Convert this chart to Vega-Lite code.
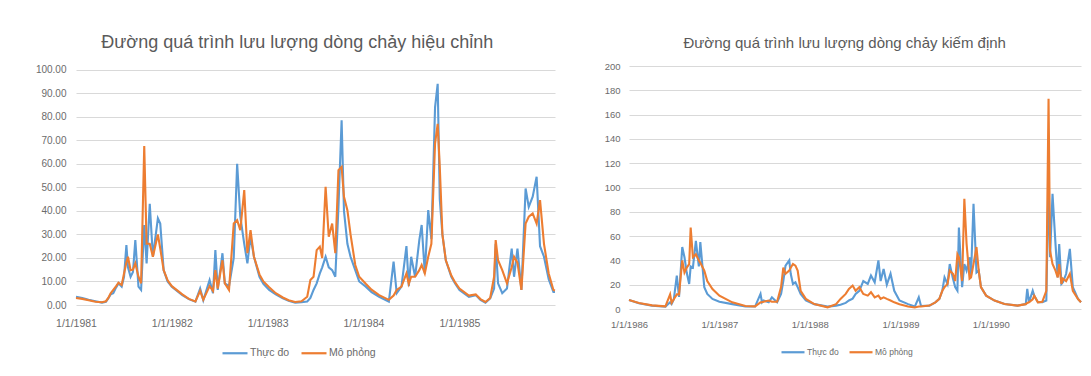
{
  "$schema": "https://vega.github.io/schema/vega-lite/v6.json",
  "background": "white",
  "padding": {"left": 35, "top": 33, "right": 5, "bottom": 5},
  "spacing": 44,
  "config": {
    "view": {"stroke": null},
    "font": "Liberation Sans",
    "axis": {"labelColor": "#6b6b6b", "labelFont": "Liberation Sans", "ticks": false, "tickSize": 0, "domain": false, "title": null},
    "title": {"color": "#5a5a5a", "fontWeight": "normal", "font": "Liberation Sans", "frame": "bounds", "anchor": "middle"},
    "legend": {"labelColor": "#6b6b6b", "labelFont": "Liberation Sans", "title": null}
  },
  "datasets": {
    "cal": [
      {"d": "1981-01-01", "obs": 3.5, "sim": 3.0},
      {"d": "1981-01-25", "obs": 3.0, "sim": 2.6},
      {"d": "1981-02-18", "obs": 2.2, "sim": 2.0},
      {"d": "1981-03-16", "obs": 1.6, "sim": 1.4},
      {"d": "1981-04-10", "obs": 1.0, "sim": 1.2},
      {"d": "1981-04-25", "obs": 1.4, "sim": 1.6},
      {"d": "1981-05-04", "obs": 2.8, "sim": 3.0},
      {"d": "1981-05-13", "obs": 4.5, "sim": 5.0},
      {"d": "1981-05-23", "obs": 5.0, "sim": 6.4},
      {"d": "1981-06-03", "obs": 7.5, "sim": 8.0},
      {"d": "1981-06-12", "obs": 9.2, "sim": 9.5},
      {"d": "1981-06-24", "obs": 7.8, "sim": 8.5},
      {"d": "1981-07-03", "obs": 12, "sim": 13.4},
      {"d": "1981-07-12", "obs": 25.5, "sim": 18},
      {"d": "1981-07-18", "obs": 16, "sim": 20.5},
      {"d": "1981-07-28", "obs": 12, "sim": 14.8},
      {"d": "1981-08-06", "obs": 14, "sim": 15},
      {"d": "1981-08-15", "obs": 27.6, "sim": 17.7},
      {"d": "1981-08-27", "obs": 7.8, "sim": 12},
      {"d": "1981-09-06", "obs": 6.4, "sim": 9.2},
      {"d": "1981-09-18", "obs": 34, "sim": 67.5},
      {"d": "1981-09-27", "obs": 17.7, "sim": 26},
      {"d": "1981-10-09", "obs": 43, "sim": 26},
      {"d": "1981-10-21", "obs": 20.5, "sim": 20.5},
      {"d": "1981-11-09", "obs": 36.8, "sim": 30},
      {"d": "1981-11-18", "obs": 34.6, "sim": 24},
      {"d": "1981-12-01", "obs": 14.8, "sim": 14.8},
      {"d": "1981-12-16", "obs": 10, "sim": 10.5},
      {"d": "1982-01-01", "obs": 7.8, "sim": 8},
      {"d": "1982-02-10", "obs": 4.2, "sim": 4.5},
      {"d": "1982-03-07", "obs": 2.5, "sim": 2.6},
      {"d": "1982-04-01", "obs": 1.4, "sim": 1.5},
      {"d": "1982-04-19", "obs": 7, "sim": 6},
      {"d": "1982-05-01", "obs": 2, "sim": 2.2},
      {"d": "1982-05-25", "obs": 10.6, "sim": 8},
      {"d": "1982-06-07", "obs": 5, "sim": 6},
      {"d": "1982-06-16", "obs": 23.3, "sim": 14.8},
      {"d": "1982-06-25", "obs": 6.4, "sim": 7},
      {"d": "1982-07-13", "obs": 22, "sim": 19},
      {"d": "1982-07-22", "obs": 9.2, "sim": 9.2},
      {"d": "1982-08-07", "obs": 8, "sim": 6.4},
      {"d": "1982-08-25", "obs": 20, "sim": 34.6},
      {"d": "1982-09-07", "obs": 60, "sim": 36},
      {"d": "1982-09-19", "obs": 37.5, "sim": 31.8},
      {"d": "1982-10-04", "obs": 26, "sim": 48.8},
      {"d": "1982-10-16", "obs": 17.7, "sim": 22},
      {"d": "1982-10-28", "obs": 29, "sim": 31.8},
      {"d": "1982-11-10", "obs": 20.5, "sim": 20.5},
      {"d": "1982-12-01", "obs": 12, "sim": 13},
      {"d": "1982-12-16", "obs": 9, "sim": 10},
      {"d": "1983-01-07", "obs": 6.4, "sim": 7.5},
      {"d": "1983-02-01", "obs": 4.5, "sim": 5},
      {"d": "1983-02-28", "obs": 2.8, "sim": 3.2},
      {"d": "1983-03-22", "obs": 1.8, "sim": 2},
      {"d": "1983-04-16", "obs": 1.0, "sim": 1.3},
      {"d": "1983-05-10", "obs": 1.2, "sim": 1.6},
      {"d": "1983-06-01", "obs": 1.5, "sim": 3.5},
      {"d": "1983-06-13", "obs": 3, "sim": 10.6},
      {"d": "1983-06-25", "obs": 6.4, "sim": 12},
      {"d": "1983-07-07", "obs": 9.2, "sim": 23.3},
      {"d": "1983-07-19", "obs": 13.4, "sim": 24.8},
      {"d": "1983-07-28", "obs": 16, "sim": 20},
      {"d": "1983-08-10", "obs": 20.5, "sim": 50.2},
      {"d": "1983-08-22", "obs": 16, "sim": 29},
      {"d": "1983-09-04", "obs": 14.8, "sim": 34.6},
      {"d": "1983-09-16", "obs": 12, "sim": 22},
      {"d": "1983-09-28", "obs": 41.7, "sim": 57.3},
      {"d": "1983-10-10", "obs": 78.5, "sim": 58.7},
      {"d": "1983-10-19", "obs": 40, "sim": 46},
      {"d": "1983-11-01", "obs": 26, "sim": 40.3},
      {"d": "1983-11-13", "obs": 20.5, "sim": 30},
      {"d": "1983-12-01", "obs": 14.8, "sim": 17},
      {"d": "1983-12-16", "obs": 10, "sim": 12},
      {"d": "1984-01-10", "obs": 7.8, "sim": 9},
      {"d": "1984-02-01", "obs": 5.5, "sim": 6.5},
      {"d": "1984-03-01", "obs": 3.5, "sim": 4.2},
      {"d": "1984-04-07", "obs": 1.4, "sim": 2.2},
      {"d": "1984-04-25", "obs": 18.4, "sim": 4},
      {"d": "1984-05-07", "obs": 5, "sim": 6.4},
      {"d": "1984-05-25", "obs": 7.8, "sim": 7.8},
      {"d": "1984-06-13", "obs": 25, "sim": 13.4},
      {"d": "1984-06-22", "obs": 8, "sim": 9},
      {"d": "1984-07-01", "obs": 20.5, "sim": 12},
      {"d": "1984-07-16", "obs": 12, "sim": 12},
      {"d": "1984-08-01", "obs": 27.6, "sim": 14.8},
      {"d": "1984-08-10", "obs": 34, "sim": 17},
      {"d": "1984-08-22", "obs": 13.4, "sim": 13.4},
      {"d": "1984-09-04", "obs": 40.3, "sim": 20.5},
      {"d": "1984-09-16", "obs": 28, "sim": 26},
      {"d": "1984-09-30", "obs": 84, "sim": 68.6},
      {"d": "1984-10-10", "obs": 94, "sim": 77},
      {"d": "1984-10-18", "obs": 45, "sim": 58.7},
      {"d": "1984-10-28", "obs": 30, "sim": 30},
      {"d": "1984-11-10", "obs": 19, "sim": 19},
      {"d": "1984-12-01", "obs": 12, "sim": 12.5},
      {"d": "1984-12-16", "obs": 9, "sim": 9.5},
      {"d": "1985-01-01", "obs": 6.4, "sim": 7},
      {"d": "1985-02-06", "obs": 3.5, "sim": 4},
      {"d": "1985-03-04", "obs": 4.2, "sim": 4.5},
      {"d": "1985-03-22", "obs": 2.2, "sim": 2.5},
      {"d": "1985-04-10", "obs": 1.0, "sim": 1.3},
      {"d": "1985-04-28", "obs": 2.8, "sim": 3},
      {"d": "1985-05-13", "obs": 7, "sim": 12},
      {"d": "1985-05-19", "obs": 26, "sim": 27.6},
      {"d": "1985-05-28", "obs": 9.2, "sim": 19},
      {"d": "1985-06-13", "obs": 5, "sim": 14.8},
      {"d": "1985-07-01", "obs": 7, "sim": 9.2},
      {"d": "1985-07-19", "obs": 24, "sim": 16},
      {"d": "1985-07-28", "obs": 12, "sim": 20.5},
      {"d": "1985-08-10", "obs": 24, "sim": 18},
      {"d": "1985-08-25", "obs": 6.4, "sim": 6.4},
      {"d": "1985-09-10", "obs": 49.5, "sim": 34.6},
      {"d": "1985-09-22", "obs": 41.7, "sim": 37.5},
      {"d": "1985-10-07", "obs": 46, "sim": 38.9},
      {"d": "1985-10-22", "obs": 54.5, "sim": 34.6},
      {"d": "1985-11-04", "obs": 25, "sim": 44.6},
      {"d": "1985-11-19", "obs": 20.5, "sim": 26},
      {"d": "1985-12-07", "obs": 11, "sim": 13.4},
      {"d": "1985-12-25", "obs": 5.5, "sim": 6.4},
      {"d": "1985-12-31", "obs": 5.5, "sim": 6.2}
    ],
    "val": [
      {"d": "1986-01-01", "obs": 7.4, "sim": 7.4},
      {"d": "1986-02-10", "obs": 4.7, "sim": 5},
      {"d": "1986-04-04", "obs": 2.8, "sim": 3},
      {"d": "1986-05-28", "obs": 2, "sim": 2.2},
      {"d": "1986-06-16", "obs": 5.5, "sim": 12},
      {"d": "1986-06-22", "obs": 4, "sim": 5},
      {"d": "1986-07-01", "obs": 8, "sim": 8},
      {"d": "1986-07-13", "obs": 27.5, "sim": 12},
      {"d": "1986-07-22", "obs": 10, "sim": 12},
      {"d": "1986-08-04", "obs": 51, "sim": 40},
      {"d": "1986-08-13", "obs": 42.6, "sim": 30},
      {"d": "1986-08-22", "obs": 30, "sim": 34},
      {"d": "1986-09-01", "obs": 20.6, "sim": 37},
      {"d": "1986-09-07", "obs": 35, "sim": 67},
      {"d": "1986-09-16", "obs": 34, "sim": 42.6},
      {"d": "1986-09-28", "obs": 56, "sim": 45},
      {"d": "1986-10-10", "obs": 35, "sim": 40},
      {"d": "1986-10-16", "obs": 55, "sim": 38},
      {"d": "1986-11-01", "obs": 18, "sim": 31.6},
      {"d": "1986-11-13", "obs": 12.4, "sim": 23},
      {"d": "1986-12-04", "obs": 8.3, "sim": 16.5},
      {"d": "1987-01-01", "obs": 6, "sim": 11},
      {"d": "1987-02-22", "obs": 4, "sim": 5.5},
      {"d": "1987-04-16", "obs": 2, "sim": 2.5},
      {"d": "1987-05-25", "obs": 2, "sim": 2.2},
      {"d": "1987-06-16", "obs": 12.4, "sim": 5.5},
      {"d": "1987-06-22", "obs": 5.5, "sim": 5.5},
      {"d": "1987-06-28", "obs": 7, "sim": 6},
      {"d": "1987-07-19", "obs": 5.5, "sim": 7},
      {"d": "1987-08-01", "obs": 9.6, "sim": 6},
      {"d": "1987-08-22", "obs": 5.5, "sim": 6},
      {"d": "1987-09-07", "obs": 12.4, "sim": 18},
      {"d": "1987-09-16", "obs": 23, "sim": 34},
      {"d": "1987-09-25", "obs": 35.7, "sim": 29},
      {"d": "1987-10-10", "obs": 40, "sim": 31.6},
      {"d": "1987-10-16", "obs": 29, "sim": 34},
      {"d": "1987-10-25", "obs": 20.6, "sim": 37},
      {"d": "1987-11-04", "obs": 22, "sim": 35.7},
      {"d": "1987-11-13", "obs": 18, "sim": 31.6},
      {"d": "1987-11-25", "obs": 12.4, "sim": 15},
      {"d": "1987-12-16", "obs": 7, "sim": 8.3},
      {"d": "1988-01-19", "obs": 4, "sim": 4},
      {"d": "1988-03-13", "obs": 2, "sim": 1.4},
      {"d": "1988-04-16", "obs": 2.8, "sim": 4},
      {"d": "1988-05-04", "obs": 3.5, "sim": 8.3},
      {"d": "1988-05-25", "obs": 5, "sim": 12.4},
      {"d": "1988-06-07", "obs": 7, "sim": 16.5},
      {"d": "1988-06-22", "obs": 8.5, "sim": 19.3},
      {"d": "1988-07-04", "obs": 12.4, "sim": 15},
      {"d": "1988-07-19", "obs": 15, "sim": 18},
      {"d": "1988-08-04", "obs": 23, "sim": 12.4},
      {"d": "1988-08-22", "obs": 20.6, "sim": 11},
      {"d": "1988-09-04", "obs": 27.5, "sim": 13.8},
      {"d": "1988-09-19", "obs": 22, "sim": 9.6},
      {"d": "1988-10-04", "obs": 40, "sim": 11},
      {"d": "1988-10-13", "obs": 23, "sim": 8.3},
      {"d": "1988-10-25", "obs": 33, "sim": 9.6},
      {"d": "1988-11-07", "obs": 20, "sim": 8.3},
      {"d": "1988-11-22", "obs": 29, "sim": 7},
      {"d": "1988-12-07", "obs": 15, "sim": 5.5},
      {"d": "1988-12-28", "obs": 7, "sim": 4},
      {"d": "1989-02-01", "obs": 4, "sim": 2},
      {"d": "1989-02-28", "obs": 2, "sim": 1.2},
      {"d": "1989-03-16", "obs": 9.6, "sim": 2},
      {"d": "1989-03-25", "obs": 2.5, "sim": 2},
      {"d": "1989-04-28", "obs": 2.8, "sim": 2.8},
      {"d": "1989-05-22", "obs": 5.5, "sim": 5.5},
      {"d": "1989-06-07", "obs": 8.3, "sim": 8.3},
      {"d": "1989-06-19", "obs": 15, "sim": 15},
      {"d": "1989-06-28", "obs": 26, "sim": 18},
      {"d": "1989-07-10", "obs": 20.6, "sim": 20.6},
      {"d": "1989-07-19", "obs": 37, "sim": 31.6},
      {"d": "1989-08-01", "obs": 25, "sim": 29},
      {"d": "1989-08-10", "obs": 18, "sim": 23},
      {"d": "1989-08-19", "obs": 15, "sim": 45},
      {"d": "1989-08-25", "obs": 67, "sim": 42.6},
      {"d": "1989-09-07", "obs": 18, "sim": 23},
      {"d": "1989-09-16", "obs": 37, "sim": 90.7},
      {"d": "1989-09-25", "obs": 31.6, "sim": 53.6},
      {"d": "1989-10-07", "obs": 42.6, "sim": 25},
      {"d": "1989-10-13", "obs": 28, "sim": 26},
      {"d": "1989-10-23", "obs": 86.6, "sim": 37},
      {"d": "1989-11-04", "obs": 30, "sim": 51},
      {"d": "1989-11-13", "obs": 31.6, "sim": 31.6},
      {"d": "1989-11-22", "obs": 18, "sim": 18},
      {"d": "1989-12-13", "obs": 11, "sim": 11},
      {"d": "1990-01-16", "obs": 6.9, "sim": 6.9},
      {"d": "1990-02-25", "obs": 4.1, "sim": 4.1},
      {"d": "1990-04-19", "obs": 2.8, "sim": 2.8},
      {"d": "1990-05-22", "obs": 4, "sim": 4},
      {"d": "1990-05-28", "obs": 16.5, "sim": 5},
      {"d": "1990-06-04", "obs": 5.5, "sim": 5.5},
      {"d": "1990-06-19", "obs": 15, "sim": 8},
      {"d": "1990-06-25", "obs": 11, "sim": 11},
      {"d": "1990-07-10", "obs": 5.5, "sim": 5.5},
      {"d": "1990-07-28", "obs": 5.5, "sim": 6},
      {"d": "1990-08-13", "obs": 7, "sim": 15},
      {"d": "1990-08-22", "obs": 110, "sim": 173},
      {"d": "1990-08-28", "obs": 42.6, "sim": 48},
      {"d": "1990-09-07", "obs": 94.8, "sim": 37},
      {"d": "1990-09-19", "obs": 53.6, "sim": 31.6},
      {"d": "1990-09-28", "obs": 26, "sim": 26},
      {"d": "1990-10-04", "obs": 53.5, "sim": 37},
      {"d": "1990-10-13", "obs": 20.6, "sim": 20.6},
      {"d": "1990-10-19", "obs": 22, "sim": 25},
      {"d": "1990-11-01", "obs": 29, "sim": 23},
      {"d": "1990-11-16", "obs": 49.5, "sim": 29},
      {"d": "1990-11-28", "obs": 18, "sim": 15},
      {"d": "1990-12-19", "obs": 8.2, "sim": 8.2},
      {"d": "1990-12-31", "obs": 5.5, "sim": 5.5}
    ]
  },
  "hconcat": [
    {
      "width": 479,
      "height": 239,
      "title": {"text": "Đường quá trình lưu lượng dòng chảy hiệu chỉnh", "fontSize": 18, "offset": 13},
      "data": {"name": "cal"},
      "transform": [{"fold": ["obs", "sim"], "as": ["k", "v"]}],
      "mark": {"type": "line", "strokeWidth": 2.1},
      "encoding": {
        "x": {
          "field": "d", "type": "temporal",
          "scale": {"type": "utc", "domain": [{"year": 1981, "month": 1, "date": 1, "utc": true}, {"year": 1985, "month": 12, "date": 31, "utc": true}]},
          "axis": {
            "values": [
              {"year": 1981, "month": 1, "date": 1, "utc": true},
              {"year": 1982, "month": 1, "date": 1, "utc": true},
              {"year": 1983, "month": 1, "date": 1, "utc": true},
              {"year": 1984, "month": 1, "date": 1, "utc": true},
              {"year": 1985, "month": 1, "date": 1, "utc": true}
            ],
            "format": "%-m/%-d/%Y", "grid": false, "labelFontSize": 10.5, "labelPadding": 13, "labelFlush": false, "labelOverlap": false
          }
        },
        "y": {
          "field": "v", "type": "quantitative",
          "scale": {"domain": [0, 101.55], "nice": false},
          "axis": {"values": [0, 10, 20, 30, 40, 50, 60, 70, 80, 90, 100], "format": ".2f", "gridColor": "#d9d9d9", "labelFontSize": 10, "labelPadding": 10}
        },
        "color": {
          "field": "k", "type": "nominal",
          "scale": {"domain": ["obs", "sim"], "range": ["#5B9BD5", "#ED7D31"]},
          "legend": {
            "orient": "none", "legendX": 145, "legendY": 273, "direction": "horizontal",
            "symbolType": "stroke", "symbolSize": 625, "symbolStrokeWidth": 2.2,
            "labelFontSize": 10.5, "labelOffset": 1, "columnPadding": 7,
            "labelExpr": "datum.label == 'obs' ? 'Thực đo' : 'Mô phỏng'"
          }
        }
      }
    },
    {
      "width": 452,
      "height": 243,
      "title": {"text": "Đường quá trình lưu lượng dòng chảy kiếm định", "fontSize": 15, "offset": 10.5},
      "data": {"name": "val"},
      "transform": [{"fold": ["obs", "sim"], "as": ["k", "v"]}],
      "mark": {"type": "line", "strokeWidth": 2.1},
      "encoding": {
        "x": {
          "field": "d", "type": "temporal",
          "scale": {"type": "utc", "domain": [{"year": 1986, "month": 1, "date": 1, "utc": true}, {"year": 1990, "month": 12, "date": 31, "utc": true}]},
          "axis": {
            "values": [
              {"year": 1986, "month": 1, "date": 1, "utc": true},
              {"year": 1987, "month": 1, "date": 1, "utc": true},
              {"year": 1988, "month": 1, "date": 1, "utc": true},
              {"year": 1989, "month": 1, "date": 1, "utc": true},
              {"year": 1990, "month": 1, "date": 1, "utc": true}
            ],
            "format": "%-m/%-d/%Y", "grid": false, "labelFontSize": 9.5, "labelPadding": 10, "labelFlush": false, "labelOverlap": false
          }
        },
        "y": {
          "field": "v", "type": "quantitative",
          "scale": {"domain": [0, 200], "nice": false},
          "axis": {"values": [0, 20, 40, 60, 80, 100, 120, 140, 160, 180, 200], "gridColor": "#d9d9d9", "labelFontSize": 9.5, "labelPadding": 9}
        },
        "color": {
          "field": "k", "type": "nominal",
          "scale": {"domain": ["obs", "sim"], "range": ["#5B9BD5", "#ED7D31"]},
          "legend": {
            "orient": "none", "legendX": 151, "legendY": 273, "direction": "horizontal",
            "symbolType": "stroke", "symbolSize": 529, "symbolStrokeWidth": 2.2,
            "labelFontSize": 8.5, "labelOffset": 1, "columnPadding": 6,
            "labelExpr": "datum.label == 'obs' ? 'Thực đo' : 'Mô phỏng'"
          }
        }
      }
    }
  ],
  "resolve": {"scale": {"color": "independent"}, "legend": {"color": "independent"}}
}
